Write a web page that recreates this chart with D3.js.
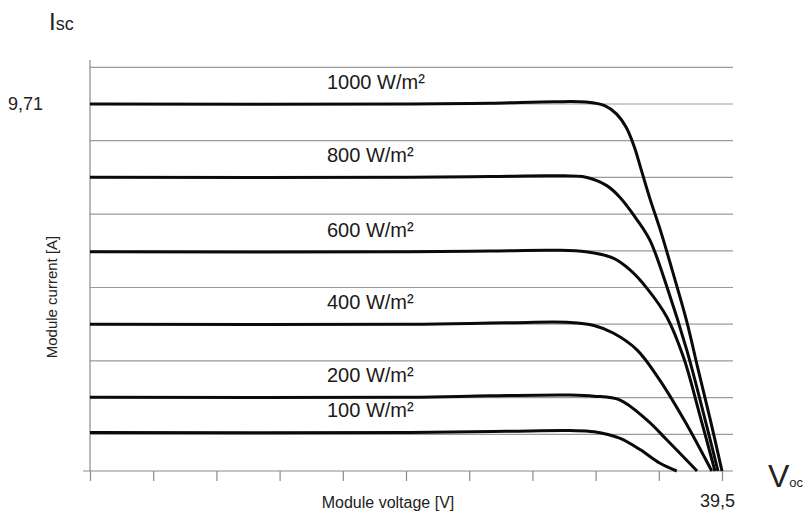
<!DOCTYPE html>
<html>
<head>
<meta charset="utf-8">
<script src="https://cdn.jsdelivr.net/npm/d3@7"></script>
<style>
  html, body { margin: 0; padding: 0; background: #fff; }
  svg { display: block; }
  text { font-family: "Liberation Sans", Arial, sans-serif; }
</style>
</head>
<body>
<svg id="chart" width="807" height="521"></svg>
<script>
// I-V characteristic of a PV module at several irradiance levels
const irradianceLabels = ["1000 W/m²", "800 W/m²", "600 W/m²", "400 W/m²", "200 W/m²", "100 W/m²"];

// [voltage V, current A] along each curve
const curve1000 = [[0, 9.71], [20, 9.71], [25, 9.73], [29, 9.77], [31, 9.76], [32.2, 9.66], [32.9, 9.45], [33.5, 9.1], [34.0, 8.6], [34.5, 7.9], [35.0, 7.2], [35.7, 6.3], [36.5, 5.15], [37.3, 3.95], [38.0, 2.7], [38.8, 1.3], [39.5, 0]];
const curve800  = [[0, 7.77], [20, 7.77], [25, 7.79], [29, 7.81], [31, 7.77], [32.3, 7.55], [33.1, 7.25], [34.2, 6.64], [35.0, 6.1], [36.06, 4.87], [37.3, 3.2], [38.3, 1.6], [39.25, 0]];
const curve600  = [[0, 5.80], [20, 5.80], [25, 5.82], [29, 5.84], [31, 5.80], [32.7, 5.63], [33.75, 5.32], [34.8, 4.84], [36.06, 4.07], [37.1, 3.0], [38.1, 1.5], [39.06, 0]];
const curve400  = [[0, 3.88], [20, 3.88], [26, 3.92], [30, 3.93], [31.5, 3.85], [32.7, 3.65], [34.2, 3.2], [35.6, 2.41], [37.2, 1.3], [38.86, 0]];
const curve200  = [[0, 1.95], [20, 1.95], [25, 1.99], [30, 2.01], [31.5, 1.98], [33.1, 1.88], [34.8, 1.35], [36.06, 0.82], [37.94, 0]];
const curve100  = [[0, 1.02], [20, 1.02], [26, 1.05], [30, 1.07], [31.5, 1.04], [33.1, 0.87], [34.4, 0.56], [35.6, 0.21], [36.67, 0]];
const curves = [curve1000, curve800, curve600, curve400, curve200, curve100];

// Gridline currents (one step per 100 W/m² of Isc) and voltage ticks
const currentGrid = [0.971, 1.942, 2.913, 3.884, 4.855, 5.826, 6.797, 7.768, 8.739, 9.71, 10.681];
const voltageTicks = [0, 3.95, 7.9, 11.85, 15.8, 19.75, 23.7, 27.65, 31.6, 35.55, 39.5];

const isc = 9.71;
const voc = 39.5;
const iscLabel = "9,71";
const vocLabel = "39,5";

const svg = d3.select("#chart");

const x = d3.scaleLinear().domain([0, voc]).range([90, 722]);
const y = d3.scaleLinear().domain([0, 10.681]).range([471, 67.3]);

// horizontal gridlines
svg.append("g")
  .selectAll("line")
  .data(currentGrid)
  .join("line")
  .attr("x1", x(0)).attr("x2", 733)
  .attr("y1", d => y(d)).attr("y2", d => y(d))
  .attr("stroke", "#9a9a9a")
  .attr("stroke-width", 1.2);

// x axis with downward ticks
const xAxis = d3.axisBottom(x).tickValues(voltageTicks).tickSize(10).tickFormat("");
const gx = svg.append("g").attr("transform", `translate(0,${y(0)})`).call(xAxis);
gx.select(".domain").remove();
gx.selectAll(".tick line").attr("stroke", "#8a8a8a").attr("stroke-width", 1.2);
svg.append("line")
  .attr("x1", 83).attr("x2", 733)
  .attr("y1", y(0)).attr("y2", y(0))
  .attr("stroke", "#8a8a8a").attr("stroke-width", 1.2);

// y axis line
svg.append("line")
  .attr("x1", x(0)).attr("x2", x(0))
  .attr("y1", 60).attr("y2", y(0))
  .attr("stroke", "#8a8a8a").attr("stroke-width", 1.2);

// I-V curves
const line = d3.line()
  .x(d => x(d[0]))
  .y(d => y(d[1]))
  .curve(d3.curveCatmullRom.alpha(0.5));

svg.append("g")
  .selectAll("path")
  .data(curves)
  .join("path")
  .attr("d", line)
  .attr("fill", "none")
  .attr("stroke", "#0a0a0a")
  .attr("stroke-width", 3)
  .attr("stroke-linejoin", "round");

// irradiance labels just above each curve
svg.append("g")
  .selectAll("text")
  .data(curves)
  .join("text")
  .attr("x", 327)
  .attr("y", d => y(d[0][1]) - 15)
  .attr("font-size", 20)
  .attr("fill", "#1a1a1a")
  .text((d, i) => irradianceLabels[i]);

// Isc marker and symbol
svg.append("text")
  .attr("x", 8).attr("y", y(isc) + 6)
  .attr("font-family", "DejaVu Sans")
  .attr("font-size", 18).attr("fill", "#222")
  .text(iscLabel);

const iscText = svg.append("text").attr("x", 49).attr("y", 30).attr("fill", "#222");
iscText.append("tspan").attr("font-size", 24).text("I");
iscText.append("tspan").attr("font-size", 18).text("sc");

// Voc marker and symbol
svg.append("text")
  .attr("x", 700).attr("y", 507)
  .attr("font-family", "DejaVu Sans")
  .attr("font-size", 18).attr("fill", "#222")
  .text(vocLabel);

const vocText = svg.append("text").attr("x", 768).attr("y", 487).attr("fill", "#222");
vocText.append("tspan").attr("font-size", 32).text("V");
vocText.append("tspan").attr("font-size", 13).text("oc");

// axis titles
svg.append("text")
  .attr("x", 388).attr("y", 508)
  .attr("text-anchor", "middle")
  .attr("font-size", 16).attr("fill", "#222")
  .text("Module voltage [V]");

svg.append("text")
  .attr("transform", "translate(57,297) rotate(-90)")
  .attr("text-anchor", "middle")
  .attr("font-size", 15).attr("fill", "#222")
  .text("Module current  [A]");
</script>
</body>
</html>
